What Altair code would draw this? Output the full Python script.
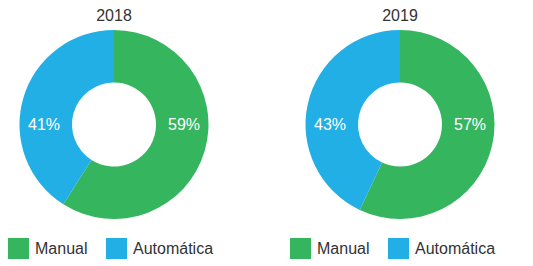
import altair as alt
import pandas as pd

categories = ["Manual", "Automática"]
values_2018 = [59, 41]
values_2019 = [57, 43]
years = ["2018", "2019"]
colors = ["#36b55f", "#22afe6"]

FONT = "Liberation Sans"


def donut(year, vals, legend_x):
    df = pd.DataFrame({
        "category": categories,
        "value": vals,
        "order": [0, 1],
        "label": [f"{v}%" for v in vals],
    })
    base = alt.Chart(df).encode(
        theta=alt.Theta("value:Q", stack=True),
        order=alt.Order("order:Q"),
    )
    arc = base.mark_arc(innerRadius=42, outerRadius=94.5, stroke=None).encode(
        color=alt.Color(
            "category:N",
            scale=alt.Scale(domain=categories, range=colors),
            sort=categories,
            legend=alt.Legend(
                title=None,
                orient="none",
                legendX=legend_x,
                legendY=212,
                direction="horizontal",
                symbolType="square",
                symbolSize=441,
                symbolStrokeWidth=0,
                symbolOpacity=1,
                labelFontSize=16,
                labelFont=FONT,
                labelColor="#333333",
                labelOffset=6,
                columnPadding=18,
            ),
        )
    )
    text = alt.Chart(df).transform_calculate(
        ang="datum.order == 0 ? PI/2 : 3*PI/2"
    ).mark_text(radius=70, fontSize=16, font=FONT, color="white").encode(
        theta=alt.Theta("ang:Q", scale=None),
        text="label:N",
    )
    return alt.layer(arc, text).properties(
        width=210,
        height=197,
        title=alt.TitleParams(year, fontSize=16, font=FONT, fontWeight="normal",
                              color="#333333", offset=4, dy=2),
    )


chart = alt.hconcat(
    donut(years[0], values_2018, -1),
    donut(years[1], values_2019, -5),
    spacing=76,
    bounds="flush",
).resolve_scale(color="independent").resolve_legend(color="independent").properties(
    padding=0
).configure_view(stroke=None)

chart.save("out.html", embed_options={"renderer": "svg", "actions": False})
